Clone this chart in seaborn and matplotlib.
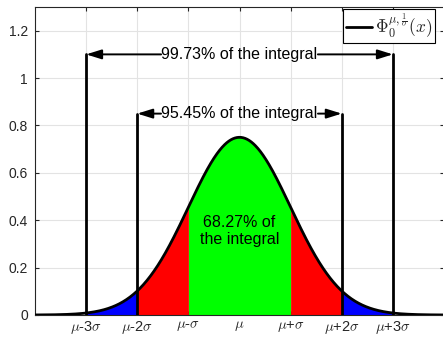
import numpy as np
import pandas as pd
import matplotlib
matplotlib.use("Agg")
import matplotlib.pyplot as plt
import seaborn as sns

# ---- data ----
mu = 0.0
sigma = 1.0
peak = 0.75                      # curve height at mu
x_range = (-4.0, 4.0)            # in sigma units around mu
tick_pos = [-3, -2, -1, 0, 1, 2, 3]
tick_labels = [r'$\mu$-3$\sigma$', r'$\mu$-2$\sigma$', r'$\mu$-$\sigma$', r'$\mu$',
               r'$\mu$+$\sigma$', r'$\mu$+2$\sigma$', r'$\mu$+3$\sigma$']
ytick_vals = [0, 0.2, 0.4, 0.6, 0.8, 1.0, 1.2]
ytick_labels = ['0', '0.2', '0.4', '0.6', '0.8', '1', '1.2']
bar_k = [2, 3]
bar_heights = [0.85, 1.1]
bar_texts = ['95.45% of the integral', '99.73% of the integral']
inner_text = '68.27% of\nthe integral'
band_colors = {1: '#00ff00', 2: '#ff0000', 3: '#0000ff'}
legend_label = r'$\Phi_0^{\mu,\frac{1}{\sigma}}(x)$'

sns.set_theme(style='white')
plt.rcParams['font.family'] = ['Liberation Sans', 'DejaVu Sans']
plt.rcParams['mathtext.fontset'] = 'cm'

x = np.linspace(mu + x_range[0] * sigma, mu + x_range[1] * sigma, 801)
y = peak * np.exp(-0.5 * ((x - mu) / sigma) ** 2)
df = pd.DataFrame({'x': x, 'y': y})

fig = plt.figure(figsize=(4.43, 3.39), dpi=100)
ax = fig.add_axes([35 / 443, 1 - 315 / 339, 409 / 443, 308 / 339])

axc = '#262626'
ax.set_xlim(mu + x_range[0] * sigma, mu + x_range[1] * sigma)
ax.set_ylim(0, 1.3)
ax.set_xticks([mu + k * sigma for k in tick_pos])
ax.set_xticklabels(tick_labels)
ax.set_yticks(ytick_vals)
ax.set_yticklabels(ytick_labels)
ax.grid(True, color='#e3e3e3', lw=0.8, zorder=0)
ax.set_axisbelow(True)
ax.tick_params(direction='in', length=3, width=0.8, colors=axc, labelsize=10,
               top=True, right=True, bottom=True, left=True)
ax.tick_params(axis='x', pad=3, labelsize=10.5)
ax.tick_params(axis='y', pad=5)
for s in ax.spines.values():
    s.set_color(axc)
    s.set_linewidth(0.8)

# filled bands
for k, col in band_colors.items():
    for sgn in (-1, 1):
        a, b = sorted([mu + sgn * (k - 1) * sigma, mu + sgn * k * sigma])
        m = (x >= a - 1e-9) & (x <= b + 1e-9)
        ax.fill_between(x[m], 0, y[m], color=col, lw=0, zorder=2)

sns.lineplot(data=df, x='x', y='y', color='black', lw=2, ax=ax, zorder=4,
             label=legend_label)
ax.set_xlabel('')
ax.set_ylabel('')

# vertical bars and arrows
for k, h, t in zip(bar_k, bar_heights, bar_texts):
    for sgn in (-1, 1):
        ax.plot([mu + sgn * k * sigma] * 2, [0, h], color='black', lw=2, zorder=5)
    for i, sgn in enumerate((-1, 1)):
        ax.annotate(t, xy=(mu + sgn * k * sigma, h), xytext=(mu, h),
                    ha='center', va='center', fontsize=11.5,
                    color='black' if i == 0 else 'none',
                    bbox=dict(boxstyle='square,pad=0.02', fc='none', ec='none'),
                    arrowprops=dict(arrowstyle='-|>,head_length=0.8,head_width=0.25',
                                    color='black', lw=1.4, shrinkA=0, shrinkB=0),
                    zorder=6)

ax.text(mu, 0.355, inner_text, ha='center', va='center', fontsize=11.5,
        color='black', zorder=6, linespacing=1.2)

leg = ax.legend(loc='upper left', bbox_to_anchor=(343 / 443, 1 - 9 / 339),
                bbox_transform=fig.transFigure, borderaxespad=0,
                fontsize=12.5, frameon=True, fancybox=False,
                edgecolor='black', framealpha=1,
                handlelength=1.5, handletextpad=0.2, borderpad=0.15)
leg.get_frame().set_linewidth(0.8)

fig.savefig('out.png', dpi=100)
